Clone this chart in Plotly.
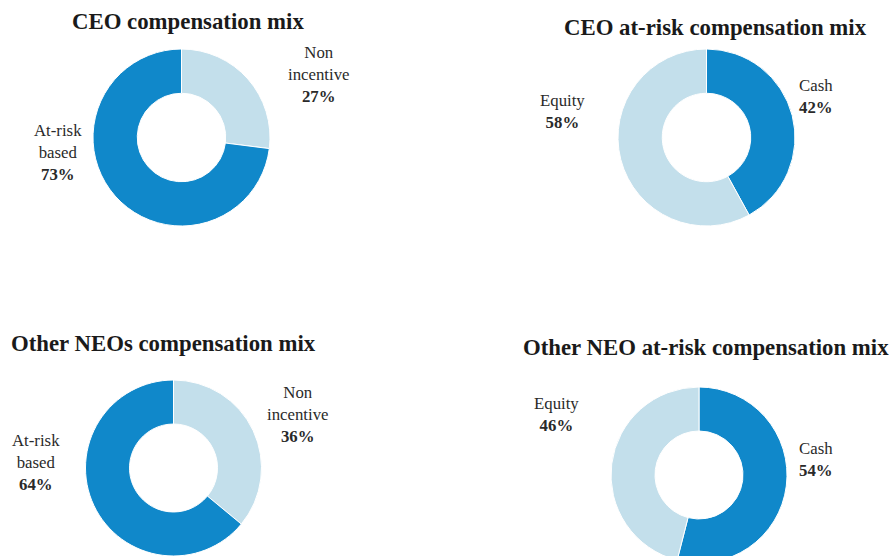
import plotly.graph_objects as go

W, H = 889, 600  # figure taller than the 556 viewport; bottom donuts are cropped

# ---- data ----
titles = ["CEO compensation mix", "CEO at-risk compensation mix",
          "Other NEOs compensation mix", "Other NEO at-risk compensation mix"]
labels_mix = ["Non incentive", "At-risk based"]
labels_risk = ["Cash", "Equity"]
ceo_mix = [27, 73]
ceo_risk = [42, 58]
neo_mix = [36, 64]
neo_risk = [54, 46]

DARK = "#1088ca"
LIGHT = "#c3dfeb"
TXT = "#2a2a2a"

# pie layout: centre x, centre y (px from top), radius (px)
geo = [(181.5, 137.5, 88.5), (706.5, 137.5, 88.5),
       (173.5, 468.0, 88.0), (699.0, 475.0, 88.0)]

series = [(labels_mix, ceo_mix, [LIGHT, DARK]),
          (labels_risk, ceo_risk, [DARK, LIGHT]),
          (labels_mix, neo_mix, [LIGHT, DARK]),
          (labels_risk, neo_risk, [DARK, LIGHT])]

fig = go.Figure()
for (lab, val, cols), (cx, cy, r) in zip(series, geo):
    fig.add_trace(go.Pie(
        labels=lab, values=val, hole=0.5, sort=False, direction="clockwise",
        rotation=0, textinfo="none", hoverinfo="label+percent",
        marker=dict(colors=cols, line=dict(color="white", width=1)),
        domain=dict(x=[(cx - r) / W, (cx + r) / W],
                    y=[(H - cy - r) / H, (H - cy + r) / H]),
        showlegend=False,
    ))

def px(x, y):
    return x / W, 1 - y / H

annots = []
title_pos = [(188, 22), (715, 28), (163, 343), (706, 347)]
for t, (x, y) in zip(titles, title_pos):
    ax, ay = px(x, y)
    annots.append(dict(text=t, x=ax, y=ay, xref="paper", yref="paper",
                       xanchor="center", yanchor="middle", showarrow=False,
                       font=dict(family="Liberation Serif", size=22.8, color="#1a1a1a",
                                 weight="bold")))

def lbl(text_lines, pct, x, y_first):
    body = "<br>".join(text_lines + [f"<b>{pct}%</b>"])
    ax, ay = px(x, y_first - 11)
    annots.append(dict(text=body, x=ax, y=ay, xref="paper", yref="paper",
                       xanchor="center", yanchor="top", align="center", showarrow=False,
                       font=dict(family="Liberation Serif", size=16.8, color=TXT)))

lbl(["Non", "incentive"], ceo_mix[0], 319, 52)
lbl(["At-risk", "based"], ceo_mix[1], 58, 130)
lbl(["Cash"], ceo_risk[0], 816, 85)
lbl(["Equity"], ceo_risk[1], 562, 100)
lbl(["Non", "incentive"], neo_mix[0], 298, 392)
lbl(["At-risk", "based"], neo_mix[1], 36, 440)
lbl(["Cash"], neo_risk[0], 816, 448)
lbl(["Equity"], neo_risk[1], 556, 403)

fig.update_layout(width=W, height=H, margin=dict(l=0, r=0, t=0, b=0),
                  paper_bgcolor="white", plot_bgcolor="white",
                  annotations=annots)

fig.write_html("out.html",
               post_script="document.body.style.margin='0';document.body.style.overflow='hidden';document.documentElement.style.overflow='hidden';")
